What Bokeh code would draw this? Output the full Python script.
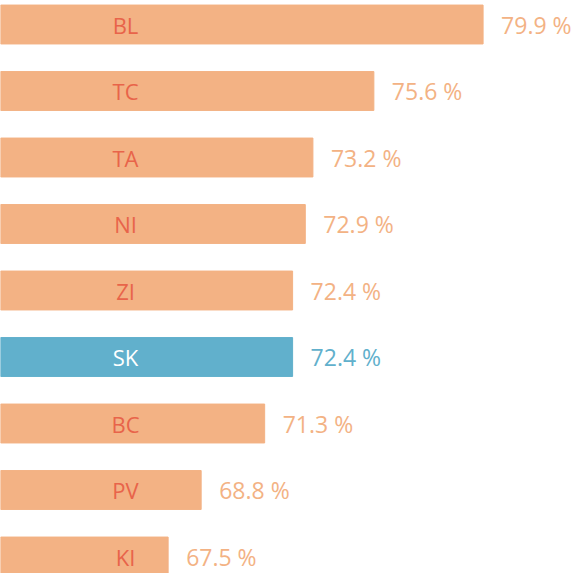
from bokeh.plotting import figure
from bokeh.models import ColumnDataSource, Range1d
from bokeh.core.properties import value
from bokeh.embed import file_html
from bokeh.resources import INLINE

categories = ["BL", "TC", "TA", "NI", "ZI", "SK", "BC", "PV", "KI"]
values = [79.9, 75.6, 73.2, 72.9, 72.4, 72.4, 71.3, 68.8, 67.5]
highlight = "SK"

ORANGE = "#F3B284"
BLUE = "#61B0CC"
RED = "#E8644A"

x_start, x_end = 60.9, 83.42
ys = [-i for i in range(len(categories))]
bar_col = [BLUE if c == highlight else ORANGE for c in categories]
cat_col = ["#FFFFFF" if c == highlight else RED for c in categories]
val_txt = [f"{v:.1f} %" for v in values]

src = ColumnDataSource(dict(y=ys, v=values, cat=categories, bc=bar_col,
                            cc=cat_col, vt=val_txt,
                            left=[x_start] * len(values)))

p = figure(width=572, height=573, output_backend="svg", toolbar_location=None,
           x_range=Range1d(x_start, x_end), y_range=Range1d(-8.2556, 0.361),
           min_border=0, outline_line_color=None)
p.axis.visible = False
p.grid.visible = False
p.background_fill_color = "white"
p.border_fill_color = "white"

p.hbar(y="y", left="left", right="v", height=0.585, color="bc", source=src)
p.text(x="left", y="y", text="cat", text_color="cc", x_offset=125,
       text_align="center", text_baseline="middle", text_font_size="22px",
       text_font=value("Open Sans"), source=src)
p.text(x="v", y="y", text="vt", text_color="bc", x_offset=18,
       text_align="left", text_baseline="middle", text_font_size="23px",
       text_font=value("Open Sans"), source=src)

open("out.html", "w").write(file_html(p, INLINE))
